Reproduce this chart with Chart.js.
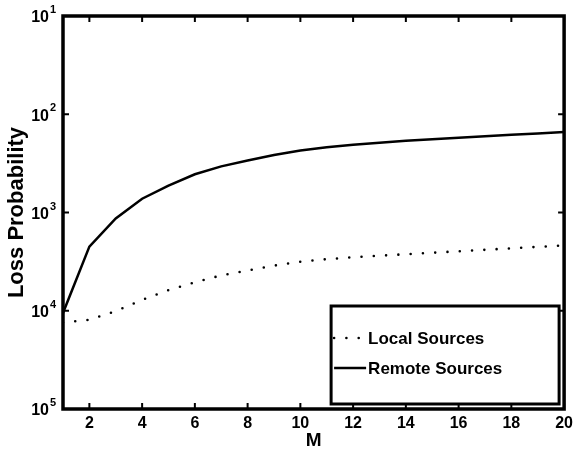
<!DOCTYPE html>
<html>
<head>
<meta charset="utf-8">
<script src="https://cdn.jsdelivr.net/npm/chart.js@4.4.0/dist/chart.umd.min.js"></script>
<style>
html, body { margin: 0; padding: 0; background: #fff; }
#wrap { width: 578px; height: 452px; }
</style>
</head>
<body>
<div id="wrap"><canvas id="lossChart" width="578" height="452"></canvas></div>
<script>
// number of sources M and the loss probability for each source type
const mValues = [1, 2, 3, 4, 5, 6, 7, 8, 9, 10, 11, 12, 13, 14, 15, 16, 17, 18, 19, 20];
const localLoss = [7.6e-5, 8.1e-5, 9.9e-5, 1.29e-4, 1.62e-4, 1.95e-4, 2.29e-4, 2.57e-4, 2.88e-4, 3.16e-4,
                   3.35e-4, 3.5e-4, 3.63e-4, 3.76e-4, 3.89e-4, 4.03e-4, 4.17e-4, 4.32e-4, 4.47e-4, 4.62e-4];
const remoteLoss = [9.5e-5, 4.5e-4, 8.7e-4, 1.38e-3, 1.88e-3, 2.45e-3, 2.95e-3, 3.39e-3, 3.85e-3, 4.27e-3,
                    4.62e-3, 4.9e-3, 5.13e-3, 5.37e-3, 5.56e-3, 5.75e-3, 5.96e-3, 6.17e-3, 6.38e-3, 6.6e-3];
const seriesNames = ['Local Sources', 'Remote Sources'];

const xTicks = [2, 4, 6, 8, 10, 12, 14, 16, 18, 20];
const yTicks = [1e-5, 1e-4, 1e-3, 1e-2, 1e-1];
const yTickExponents = ['5', '4', '3', '2', '1'];

const FONT = '"Liberation Sans", Arial, Helvetica, sans-serif';

// heavy box round the plot with inward ticks on every side,
// plus the "10 to the power" labels on the log axis
const framePlugin = {
  id: 'frame',
  afterDraw(chart) {
    const { ctx, chartArea: a, scales } = chart;
    const tl = 6;
    ctx.save();
    ctx.strokeStyle = '#000';
    ctx.lineWidth = 2;
    ctx.beginPath();
    xTicks.forEach(v => {
      const x = scales.x.getPixelForValue(v);
      ctx.moveTo(x, a.bottom); ctx.lineTo(x, a.bottom - tl);
      ctx.moveTo(x, a.top); ctx.lineTo(x, a.top + tl);
    });
    yTicks.forEach(v => {
      const y = scales.y.getPixelForValue(v);
      ctx.moveTo(a.left, y); ctx.lineTo(a.left + tl, y);
      ctx.moveTo(a.right, y); ctx.lineTo(a.right - tl, y);
    });
    ctx.stroke();
    ctx.lineWidth = 3.5;
    ctx.strokeRect(a.left, a.top, a.right - a.left, a.bottom - a.top);

    ctx.fillStyle = '#000';
    ctx.textBaseline = 'middle';
    yTicks.forEach((v, i) => {
      const y = scales.y.getPixelForValue(v);
      ctx.textAlign = 'right';
      ctx.font = 'bold 16px ' + FONT;
      ctx.fillText('10', a.left - 14, y + 2);
      ctx.textAlign = 'left';
      ctx.font = 'bold 11px ' + FONT;
      ctx.fillText(yTickExponents[i], a.left - 13, y - 6);
    });
    ctx.restore();
  }
};

// boxed legend in the lower right corner
const boxLegendPlugin = {
  id: 'boxLegend',
  afterDraw(chart) {
    const { ctx, chartArea: a } = chart;
    const w = 228, h = 98;
    const left = a.right - 5 - w, top = a.bottom - 5 - h;
    ctx.save();
    ctx.fillStyle = '#fff';
    ctx.fillRect(left, top, w, h);
    ctx.strokeStyle = '#000';
    ctx.lineWidth = 3;
    ctx.strokeRect(left, top, w, h);
    chart.data.datasets.forEach((ds, i) => {
      const y = top + 32 + i * 30;
      ctx.beginPath();
      ctx.lineWidth = ds.borderWidth;
      ctx.lineCap = ds.borderCapStyle || 'butt';
      ctx.setLineDash(ds.borderDash || []);
      ctx.moveTo(left + 3, y);
      ctx.lineTo(left + 35, y);
      ctx.stroke();
      ctx.setLineDash([]);
      ctx.fillStyle = '#000';
      ctx.font = 'bold 17px ' + FONT;
      ctx.textBaseline = 'middle';
      ctx.textAlign = 'left';
      ctx.fillText(ds.label, left + 37, y + 1);
    });
    ctx.restore();
  }
};

const lossChart = new Chart(document.getElementById('lossChart'), {
  type: 'line',
  data: {
    datasets: [{
      label: seriesNames[0],
      data: mValues.map((m, i) => ({ x: m, y: localLoss[i] })),
      borderColor: '#000',
      borderWidth: 2.6,
      borderDash: [0, 12.3],
      borderCapStyle: 'round',
      pointRadius: 0,
      tension: 0
    }, {
      label: seriesNames[1],
      data: mValues.map((m, i) => ({ x: m, y: remoteLoss[i] })),
      borderColor: '#000',
      borderWidth: 2.5,
      pointRadius: 0,
      tension: 0
    }]
  },
  options: {
    responsive: false,
    animation: false,
    events: [],
    layout: { padding: { top: 16, right: 11, left: 0, bottom: 0 } },
    plugins: { legend: { display: false }, tooltip: { enabled: false } },
    scales: {
      x: {
        type: 'linear',
        min: 1,
        max: 20,
        afterBuildTicks: s => { s.ticks = xTicks.map(v => ({ value: v })); },
        afterFit: s => { s.height = 43; },
        grid: { display: false, drawTicks: false },
        border: { display: false },
        ticks: { color: '#000', font: { family: FONT, size: 16, weight: 'bold' }, padding: 5, maxRotation: 0 },
        title: { display: true, text: 'M', color: '#000', font: { family: FONT, size: 19, weight: 'bold' }, padding: { top: 0, bottom: 0 } }
      },
      y: {
        type: 'logarithmic',
        min: 1e-5,
        max: 1e-1,
        afterBuildTicks: s => { s.ticks = yTicks.map(v => ({ value: v })); },
        afterFit: s => { s.width = 63; },
        grid: { display: false, drawTicks: false },
        border: { display: false },
        ticks: { display: false },
        title: { display: true, text: 'Loss Probability', color: '#000', font: { family: FONT, size: 22, weight: 'bold' }, padding: { top: 4, bottom: 0 } }
      }
    }
  },
  plugins: [framePlugin, boxLegendPlugin]
});
</script>
</body>
</html>
